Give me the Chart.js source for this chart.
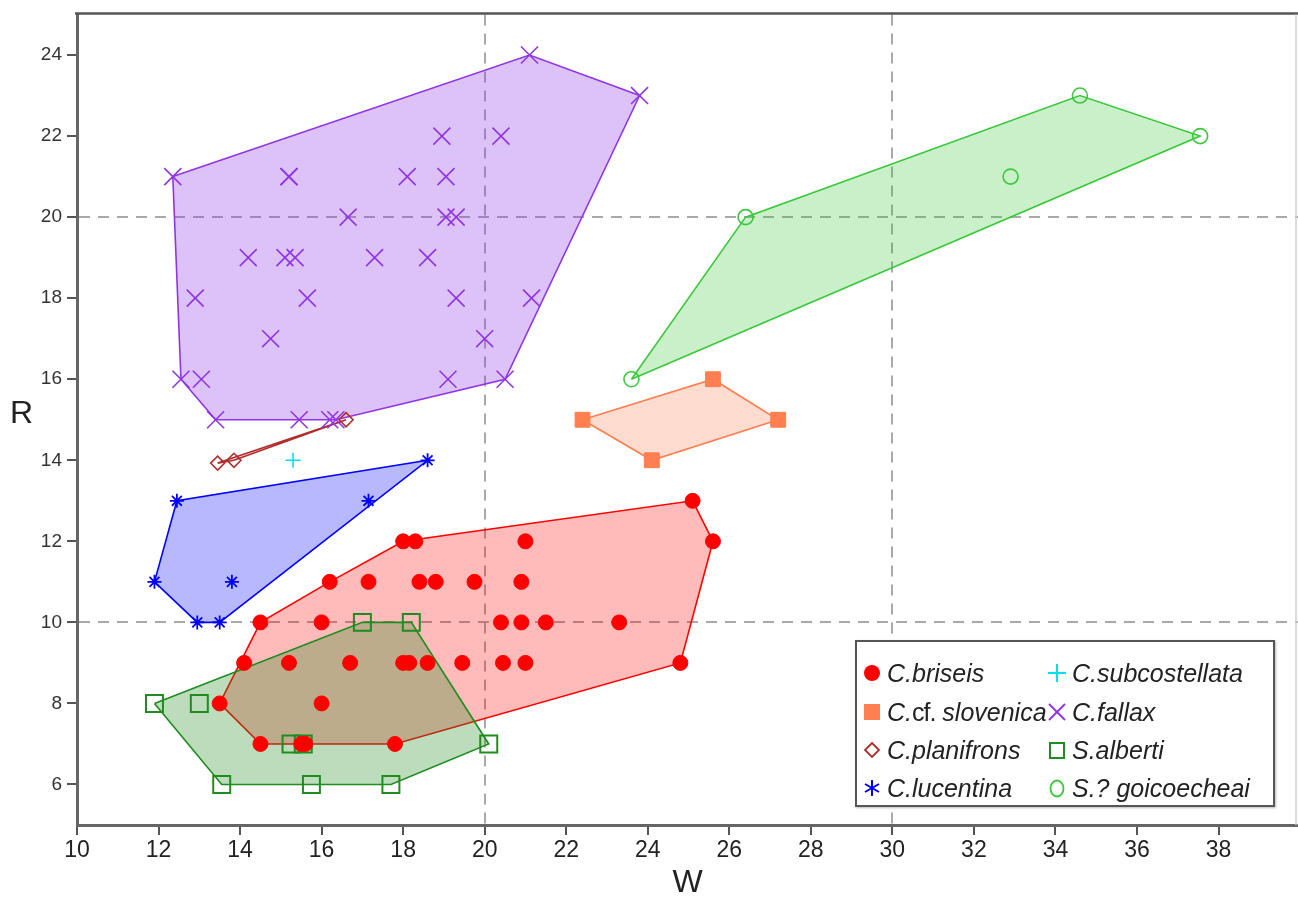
<!DOCTYPE html>
<html>
<head>
<meta charset="utf-8">
<script src="https://cdn.jsdelivr.net/npm/chart.js@4/dist/chart.umd.min.js"></script>
<style>
html,body{margin:0;padding:0;background:#fff;}
#wrap{position:relative;width:1298px;height:899px;overflow:hidden;}
#legend{position:absolute;left:855px;top:640px;width:416px;height:163px;border:2px solid #555;background:#fff;box-shadow:1px 1px 2px #bbb;font-family:"Liberation Sans",Arial,sans-serif;font-size:25px;color:#222;}
.item{position:absolute;white-space:nowrap;height:30px;line-height:30px;}
.item svg{position:absolute;left:0;top:5px;}
.item .txt{position:absolute;left:25px;top:0;font-style:italic;}
.item .txt .up{font-style:normal;letter-spacing:-1px;}
#rtitle{position:absolute;left:10px;top:396px;font-family:"Liberation Sans",Arial,sans-serif;font-size:32px;line-height:32px;color:#222;}
</style>
</head>
<body>
<div id="wrap">
  <canvas id="c" width="1298" height="899"></canvas>
  <div id="rtitle"></div>
  <div id="legend"></div>
</div>
<script>
// ---------------- data ----------------
const axisTitleX = 'W';
const axisTitleY = 'R';
const xMin = 10, xMax = 39.95, yMin = 5, yMax = 25;
const xTickValues = [10, 12, 14, 16, 18, 20, 22, 24, 26, 28, 30, 32, 34, 36, 38];
const yTickValues = [6, 8, 10, 12, 14, 16, 18, 20, 22, 24];
const xDashedAt = [20, 30];
const yDashedAt = [10, 20];

const speciesNames = ['C.briseis', 'C.cf. slovenica', 'C.planifrons', 'C.lucentina',
                      'C.subcostellata', 'C.fallax', 'S.alberti', 'S.? goicoecheai'];

const briseisW = [25.1, 25.6, 18.0, 18.3, 21.0, 16.2, 17.15, 18.4, 18.8, 19.75, 20.9,
                  14.5, 16.0, 20.4, 20.9, 21.5, 23.3,
                  14.1, 15.2, 16.7, 18.0, 18.15, 18.6, 19.45, 20.45, 21.0, 24.8,
                  13.5, 16.0, 14.5, 15.5, 15.6, 17.8];
const briseisR = [13, 12, 12, 12, 12, 11, 11, 11, 11, 11, 11,
                  10, 10, 10, 10, 10, 10,
                  9, 9, 9, 9, 9, 9, 9, 9, 9, 9,
                  8, 8, 7, 7, 7, 7];

const slovenicaW = [22.4, 25.6, 27.2, 24.1];
const slovenicaR = [15, 16, 15, 14];

const planifronsW = [13.45, 13.85, 16.6];
const planifronsR = [13.93, 14.0, 15.0];

const lucentinaW = [11.9, 12.45, 12.95, 13.5, 13.8, 17.15, 18.6];
const lucentinaR = [11, 13, 10, 10, 11, 13, 14];

const subcostellataW = [15.3];
const subcostellataR = [14];

const fallaxW = [12.35, 15.2, 15.2, 18.1, 19.05, 18.95, 20.4, 21.1, 23.8,
                 16.65, 19.05, 19.3, 14.2, 15.1, 15.35, 17.3, 18.6,
                 12.9, 15.65, 19.3, 21.15, 14.75, 20.0,
                 12.55, 13.05, 19.1, 20.5, 13.4, 15.45, 16.2, 16.35];
const fallaxR = [21, 21, 21, 21, 21, 22, 22, 24, 23,
                 20, 20, 20, 19, 19, 19, 19, 19,
                 18, 18, 18, 18, 17, 17,
                 16, 16, 16, 16, 15, 15, 15, 15];

const albertiW = [11.9, 13.0, 17.0, 18.2, 20.1, 15.25, 15.55, 13.55, 15.75, 17.7];
const albertiR = [8, 8, 10, 10, 7, 7, 7, 6, 6, 6];

const goicoecheaiW = [23.6, 26.4, 34.6, 37.55, 32.9];
const goicoecheaiR = [16, 20, 23, 22, 21];

// ---------------- styles ----------------
const styles = [
  {stroke:'#FF0000', fill:'rgba(255,0,0,0.27)',     point:'circle',   r:7.5, bw:1,   solid:true},
  {stroke:'#FF7F50', fill:'rgba(255,127,80,0.27)',  point:'rect',     r:10.5,bw:1,   solid:true},
  {stroke:'#B22C2C', fill:'rgba(178,44,44,0.15)',   point:'rectRot',  r:7,   bw:1.6, solid:false},
  {stroke:'#0000FF', fill:'rgba(0,0,255,0.28)',     point:'star',     r:7,   bw:1.8, solid:false},
  {stroke:'#00E0F0', fill:'rgba(0,224,240,0.2)',    point:'cross',    r:7.5, bw:1.6, solid:false},
  {stroke:'#9035E6', fill:'rgba(144,53,230,0.30)',  point:'crossRot', r:12,  bw:1.6, solid:false},
  {stroke:'#1E8C1E', fill:'rgba(34,139,34,0.30)',   point:'rect',     r:12,  bw:2,   solid:false},
  {stroke:'#3CC83C', fill:'rgba(60,200,60,0.27)',   point:'circle',   r:7.5, bw:1.6, solid:false}
];
const seriesW = [briseisW, slovenicaW, planifronsW, lucentinaW, subcostellataW, fallaxW, albertiW, goicoecheaiW];
const seriesR = [briseisR, slovenicaR, planifronsR, lucentinaR, subcostellataR, fallaxR, albertiR, goicoecheaiR];

function convexHull(ws, rs) {
  const pts = ws.map((w, i) => ({x: w, y: rs[i]})).sort((a, b) => a.x - b.x || a.y - b.y);
  const cross = (o, a, b) => (a.x - o.x) * (b.y - o.y) - (a.y - o.y) * (b.x - o.x);
  const lower = [];
  for (const p of pts) {
    while (lower.length >= 2 && cross(lower[lower.length - 2], lower[lower.length - 1], p) <= 0) lower.pop();
    lower.push(p);
  }
  const upper = [];
  for (let i = pts.length - 1; i >= 0; i--) {
    const p = pts[i];
    while (upper.length >= 2 && cross(upper[upper.length - 2], upper[upper.length - 1], p) <= 0) upper.pop();
    upper.push(p);
  }
  lower.pop(); upper.pop();
  const h = lower.concat(upper);
  h.push({x: h[0].x, y: h[0].y});
  return h;
}

const datasets = [];
speciesNames.forEach((name, i) => {
  const st = styles[i];
  const pts = seriesW[i].map((w, k) => ({x: w, y: seriesR[i][k]}));
  datasets.push({
    type: 'scatter', label: name, data: pts, order: 0,
    pointStyle: st.point, pointRadius: st.r, pointHoverRadius: st.r,
    pointBorderWidth: st.bw, borderColor: st.stroke,
    backgroundColor: st.solid ? st.stroke : 'rgba(0,0,0,0)'
  });
  if (seriesW[i].length >= 3) {
    datasets.push({
      type: 'line', label: name + ' hull', data: convexHull(seriesW[i], seriesR[i]),
      order: name === 'S.alberti' ? 1 : 2,
      borderColor: st.stroke, backgroundColor: st.fill, borderWidth: 1.6,
      pointRadius: 0, pointHoverRadius: 0, tension: 0, fill: 'shape'
    });
  }
});

const FONT = '"Liberation Sans", Arial, sans-serif';
const framePlugin = {
  id: 'frame',
  afterDraw(chart) {
    const {ctx, chartArea: a} = chart;
    ctx.save();
    ctx.strokeStyle = '#555'; ctx.lineWidth = 2.5;
    ctx.beginPath(); ctx.moveTo(a.left - 2, a.top - 1); ctx.lineTo(a.right, a.top - 1); ctx.stroke();
    ctx.strokeStyle = '#d0d0d0'; ctx.lineWidth = 1.5;
    ctx.beginPath(); ctx.moveTo(a.right - 2, a.top); ctx.lineTo(a.right - 2, a.bottom); ctx.stroke();
    ctx.restore();
  }
};

new Chart(document.getElementById('c'), {
  type: 'scatter',
  data: {datasets},
  options: {
    responsive: false, animation: false, events: [],
    layout: {autoPadding: false, padding: {top: 10, right: 0, left: 0, bottom: 0}},
    plugins: {legend: {display: false}, tooltip: {enabled: false}},
    scales: {
      x: {
        type: 'linear', min: xMin, max: xMax,
        afterFit: s => { s.height = 74; },
        afterBuildTicks: s => { s.ticks = xTickValues.map(v => ({value: v})); },
        ticks: {autoSkip: false, maxRotation: 0,
                font: {family: FONT, size: 23, lineHeight: 1}, color: '#222', padding: 4},
        grid: {
          color: c => (c.tick && xDashedAt.includes(c.tick.value)) ? '#a9a9a9' : 'rgba(0,0,0,0)',
          lineWidth: 2, tickColor: '#555', tickWidth: 2, tickLength: 10, drawOnChartArea: true
        },
        border: {display: true, color: '#666', width: 3, dash: [11, 8]},
        title: {display: true, text: axisTitleX, color: '#222',
                font: {family: FONT, size: 32, lineHeight: 1}, padding: {top: 0, bottom: 0}}
      },
      y: {
        type: 'linear', min: yMin, max: yMax,
        afterFit: s => { s.width = 77; },
        afterBuildTicks: s => { s.ticks = yTickValues.map(v => ({value: v})); },
        ticks: {autoSkip: false,
                font: {family: FONT, size: 19, lineHeight: 1}, color: '#333', padding: 5},
        grid: {
          color: c => (c.tick && yDashedAt.includes(c.tick.value)) ? '#a9a9a9' : 'rgba(0,0,0,0)',
          lineWidth: 2, tickColor: '#555', tickWidth: 2, tickLength: 10, drawOnChartArea: true
        },
        border: {display: true, color: '#666', width: 3, dash: [11, 8]},
        title: {display: false}
      }
    }
  },
  plugins: [framePlugin]
});

// y-axis title (horizontal, as in the reference)
document.getElementById('rtitle').textContent = axisTitleY;

// ---------------- legend (HTML, two columns) ----------------
function markerSVG(i) {
  const st = styles[i];
  const c = st.stroke;
  let inner = '';
  switch (i) {
    case 0: inner = `<circle cx="10" cy="10" r="8" fill="${c}"/>`; break;
    case 1: inner = `<rect x="2" y="2" width="16" height="16" fill="${c}"/>`; break;
    case 2: inner = `<polygon points="10,3 17,10 10,17 3,10" fill="none" stroke="${c}" stroke-width="1.8"/>`; break;
    case 3: inner = `<g stroke="${c}" stroke-width="2"><line x1="10" y1="2" x2="10" y2="18"/><line x1="3" y1="6" x2="17" y2="14"/><line x1="3" y1="14" x2="17" y2="6"/></g>`; break;
    case 4: inner = `<g stroke="${c}" stroke-width="2"><line x1="10" y1="1" x2="10" y2="19"/><line x1="1" y1="10" x2="19" y2="10"/></g>`; break;
    case 5: inner = `<g stroke="${c}" stroke-width="2"><line x1="2" y1="2" x2="18" y2="18"/><line x1="2" y1="18" x2="18" y2="2"/></g>`; break;
    case 6: inner = `<rect x="3" y="3" width="14" height="15" fill="none" stroke="${c}" stroke-width="2"/>`; break;
    case 7: inner = `<ellipse cx="10" cy="10.5" rx="6.5" ry="8" fill="none" stroke="${c}" stroke-width="1.8"/>`; break;
  }
  return `<svg width="20" height="20" viewBox="0 0 20 20">${inner}</svg>`;
}
function labelHTML(name) {
  return name.replace('cf. ', '<span class="up">cf.</span> ');
}
const legend = document.getElementById('legend');
const rowTops = [16, 55, 93, 131];
speciesNames.forEach((name, i) => {
  const col = Math.floor(i / 4), row = i % 4;
  const d = document.createElement('div');
  d.className = 'item';
  d.style.left = (col === 0 ? 5 : 190) + 'px';
  d.style.top = rowTops[row] + 'px';
  d.innerHTML = markerSVG(i) + `<span class="txt">${labelHTML(name)}</span>`;
  legend.appendChild(d);
});
</script>
</body>
</html>
